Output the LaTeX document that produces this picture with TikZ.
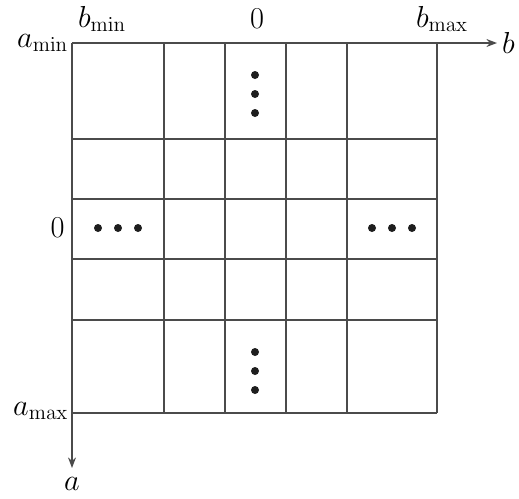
\documentclass[tikz,border=0pt]{standalone}
\usepackage{xcolor}
\definecolor{gridgray}{RGB}{75,75,75}
\definecolor{dotblack}{RGB}{30,30,30}
\usetikzlibrary{arrows.meta}

\begin{document}
\begin{tikzpicture}[x=0.02cm, y=-0.02cm, font=\fontsize{16.5}{19}\selectfont]
  \useasboundingbox (0,0) rectangle (519,498);

  % Axes
  \coordinate (origin) at (72,43);
  \coordinate (bend) at (497,43);
  \coordinate (aend) at (72,468);
  \draw[-{Stealth[length=6pt]}, line width=0.9pt, gridgray] (origin) -- (bend) node[right, text=black, inner sep=2.5pt] {$b$};
  \draw[-{Stealth[length=6pt]}, line width=0.9pt, gridgray] (origin) -- (aend) node[below, text=black, inner sep=5pt] {$a$};

  % Grid cells
  \foreach \x in {164,225,286,347,437}
    \draw[line width=0.9pt, gridgray] (\x,43) -- (\x,413);
  \foreach \y in {139,199,259,320,413}
    \draw[line width=0.9pt, gridgray] (72,\y) -- (437,\y);

  % Axis labels
  \node[left, inner sep=2pt] (amin) at (origin) {$a_{\min}$};
  \node[left, inner sep=2pt] (amax) at (72,411) {$a_{\max}$};
  \node[left, inner sep=4pt] (azero) at (72,228) {$0$};
  \node (bmin) at (102,19) {$b_{\min}$};
  \node (bzero) at (257,19) {$0$};
  \node (bmax) at (442,19) {$b_{\max}$};

  % Dots
  \foreach \y in {75,94,113} \fill[dotblack] (255,\y) circle (4);
  \foreach \y in {352,371,390} \fill[dotblack] (255,\y) circle (4);
  \foreach \x in {98,118,138} \fill[dotblack] (\x,228) circle (4);
  \foreach \x in {372,392,412} \fill[dotblack] (\x,228) circle (4);
\end{tikzpicture}
\end{document}
